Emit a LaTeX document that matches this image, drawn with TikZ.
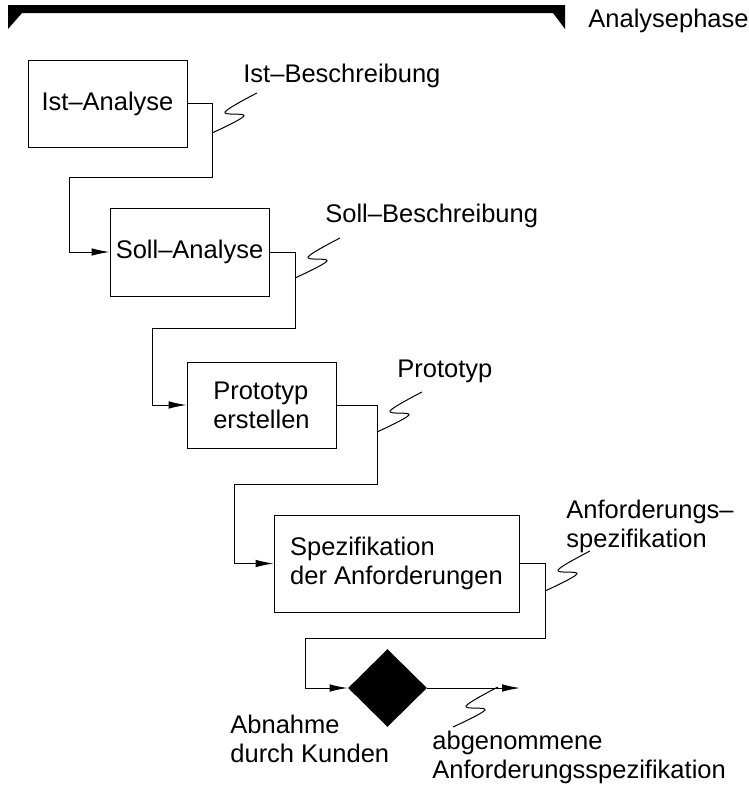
\documentclass[tikz,border=0pt]{standalone}
\usepackage{fontspec}
\setmainfont{Liberation Sans}
\usetikzlibrary{arrows.meta,shapes.geometric}

\begin{document}
\begin{tikzpicture}[x=0.5pt,y=-0.5pt,
  font=\fontsize{12.75pt}{14.5pt}\selectfont,
  >={Latex[length=9pt,width=3.8pt]},
  box/.style={draw,line width=.5pt,align=left,inner sep=0pt},
  flow/.style={->,line width=.5pt},
  beschr/.style={anchor=base west,inner sep=0pt,align=left},
  blitz/.pic={\draw[line width=.5pt] plot[smooth,tension=.6] coordinates{(0,0) (32,-17) (13,-21) (45,-40)};}]
\useasboundingbox (0,0) rectangle (749,788);

\fill (8,5) -- (565,5) -- (565,29) -- (553,13) -- (22,13) -- (8,29) -- cycle;
\node[beschr] (phase) at (588,27) {Analysephase};

\node[box,minimum width=79.5pt,minimum height=43.5pt] (ist) at (107.5,103.5) {Ist–Analyse};
\node[box,minimum width=79.5pt,minimum height=44pt] (soll) at (189.5,252) {Soll–Analyse};
\node[box,minimum width=74.5pt,minimum height=43pt] (proto) at (261.5,405) {Prototyp\\erstellen};
\node[box,minimum width=122.5pt,minimum height=48.5pt] (spez) at (396.5,563.5) {Spezifikation\\der Anforderungen};
\node[diamond,fill,inner sep=0pt,minimum width=39.5pt,minimum height=39pt] (abn) at (387.5,688) {};
\coordinate (ende) at (520,688);

\draw[flow] (ist.east) -| (212,177) -- (69,177) |- (soll.west);
\draw[flow] (soll.east) -| (295,328) -- (152,328) |- (proto.west);
\draw[flow] (proto.east) -| (377,484) -- (234,484) |- (spez.west);
\draw[flow] (spez.east) -| (545,638) -- (305,638) |- (abn.west);
\draw[flow] (abn.east) -- (ende);

% Beschriftungen der Ergebnisse
\pic at (212,133) {blitz};
\pic at (295,278) {blitz};
\pic at (377,432) {blitz};
\pic at (545,591) {blitz};
\pic at (453,727) {blitz};
\node[beschr] (istb) at (243,82) {Ist–Beschreibung};
\node[beschr] (sollb) at (325,222) {Soll–Beschreibung};
\node[beschr] (protob) at (397,377) {Prototyp};
\node[beschr] (anfb) at (566,547) {Anforderungs–\\spezifikation};
\node[beschr] (kunde) at (230,762) {Abnahme\\durch Kunden};
\node[beschr] (abgen) at (432,778) {abgenommene\\Anforderungsspezifikation};
\end{tikzpicture}
\end{document}
